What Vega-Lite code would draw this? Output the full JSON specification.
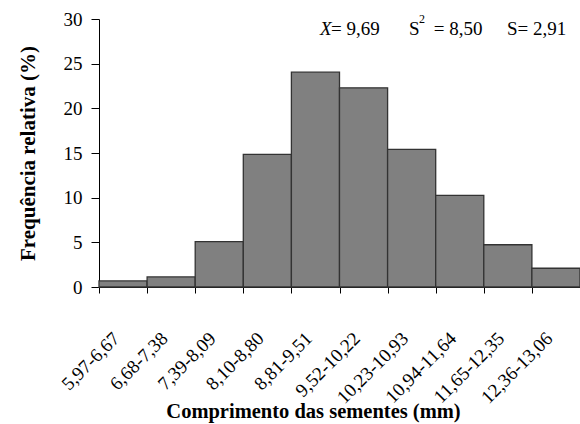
{
  "$schema": "https://vega.github.io/schema/vega-lite/v6.json",
  "width": 481,
  "height": 268,
  "autosize": {"type": "none"},
  "padding": {"left": 99, "top": 19, "right": 0, "bottom": 137},
  "background": "white",
  "config": {
    "view": {"stroke": null},
    "font": "Liberation Serif",
    "axis": {"grid": false, "domainColor": "#000000", "tickColor": "#000000", "labelColor": "#000000", "titleColor": "#000000", "labelFont": "Liberation Serif", "titleFont": "Liberation Serif"},
    "text": {"font": "Liberation Serif", "color": "#000000", "align": "left", "baseline": "alphabetic", "fontSize": 19}
  },
  "datasets": {
    "bins": [
      {"classe": "5,97-6,67", "freq": 0.68},
      {"classe": "6,68-7,38", "freq": 1.13},
      {"classe": "7,39-8,09", "freq": 5.07},
      {"classe": "8,10-8,80", "freq": 14.85},
      {"classe": "8,81-9,51", "freq": 24.05},
      {"classe": "9,52-10,22", "freq": 22.3},
      {"classe": "10,23-10,93", "freq": 15.4},
      {"classe": "10,94-11,64", "freq": 10.26},
      {"classe": "11,65-12,35", "freq": 4.73},
      {"classe": "12,36-13,06", "freq": 2.1}
    ]
  },
  "layer": [
    {
      "data": {"name": "bins"},
      "mark": {"type": "bar", "fill": "#808080", "stroke": "#333333", "strokeWidth": 1.3},
      "encoding": {
        "x": {
          "field": "classe", "type": "nominal", "sort": null,
          "scale": {"paddingInner": 0, "paddingOuter": 0},
          "axis": {
            "title": "Comprimento das sementes (mm)",
            "titleFontSize": 20.5, "titleFontWeight": "bold", "titleFont": "Liberation Serif",
            "titleX": 214, "titleY": 130, "titleBaseline": "alphabetic",
            "labelAngle": -45, "labelAlign": "right", "labelBaseline": "middle",
            "labelFontSize": 19, "labelFont": "Liberation Serif", "labelPadding": 42, "labelOffset": -7,
            "tickBand": "extent", "tickSize": 6, "labelOverlap": false
          }
        },
        "y": {
          "field": "freq", "type": "quantitative",
          "scale": {"domain": [0, 30], "nice": false},
          "axis": {
            "title": "Frequência relativa (%)",
            "titleFontSize": 21, "titleFontWeight": "bold", "titleFont": "Liberation Serif",
            "titleX": -71, "titleBaseline": "middle",
            "values": [0, 5, 10, 15, 20, 25, 30],
            "labelFontSize": 19, "labelFont": "Liberation Serif", "labelPadding": 9, "tickSize": 8
          }
        }
      }
    },
    {
      "data": {"values": [{"classe": "8,81-9,51", "y": 28.2, "t": "X"}]},
      "mark": {"type": "text", "fontStyle": "italic"},
      "encoding": {
        "x": {"field": "classe", "type": "nominal", "sort": null, "bandPosition": 0.595},
        "y": {"field": "y", "type": "quantitative"},
        "text": {"field": "t"}
      }
    },
    {
      "data": {"values": [{"classe": "8,81-9,51", "y": 28.2, "t": "= 9,69"}]},
      "mark": {"type": "text"},
      "encoding": {
        "x": {"field": "classe", "type": "nominal", "sort": null, "bandPosition": 0.823},
        "y": {"field": "y", "type": "quantitative"},
        "text": {"field": "t"}
      }
    },
    {
      "data": {"values": [{"classe": "10,23-10,93", "y": 28.2, "t": "S"}]},
      "mark": {"type": "text"},
      "encoding": {
        "x": {"field": "classe", "type": "nominal", "sort": null, "bandPosition": 0.445},
        "y": {"field": "y", "type": "quantitative"},
        "text": {"field": "t"}
      }
    },
    {
      "data": {"values": [{"classe": "10,23-10,93", "y": 29.55, "t": "2"}]},
      "mark": {"type": "text", "fontSize": 12},
      "encoding": {
        "x": {"field": "classe", "type": "nominal", "sort": null, "bandPosition": 0.653},
        "y": {"field": "y", "type": "quantitative"},
        "text": {"field": "t"}
      }
    },
    {
      "data": {"values": [{"classe": "10,23-10,93", "y": 28.2, "t": "= 8,50"}]},
      "mark": {"type": "text"},
      "encoding": {
        "x": {"field": "classe", "type": "nominal", "sort": null, "bandPosition": 0.96},
        "y": {"field": "y", "type": "quantitative"},
        "text": {"field": "t"}
      }
    },
    {
      "data": {"values": [{"classe": "11,65-12,35", "y": 28.2, "t": "S= 2,91"}]},
      "mark": {"type": "text"},
      "encoding": {
        "x": {"field": "classe", "type": "nominal", "sort": null, "bandPosition": 0.482},
        "y": {"field": "y", "type": "quantitative"},
        "text": {"field": "t"}
      }
    }
  ]
}
